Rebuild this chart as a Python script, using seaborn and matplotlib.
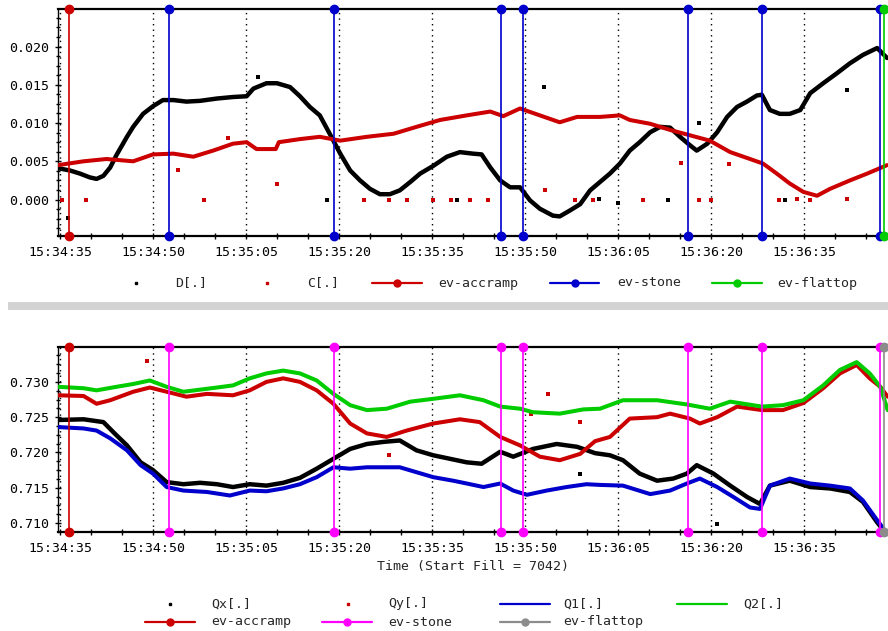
import matplotlib
matplotlib.use("Agg")
import matplotlib.pyplot as plt
from matplotlib.lines import Line2D
from matplotlib.patches import Rectangle
from matplotlib.ticker import MultipleLocator, AutoMinorLocator, FuncFormatter
import seaborn as sns

# ---------------- data (seconds after 15:34:35) ----------------
D_t = [-0.3,1.6,3.2,4.8,5.9,7.0,8.1,9.1,10.8,11.8,13.4,15.0,16.6,18.3,20.4,22.6,25.3,27.9,30.1,31.2,33.3,35.0,37.1,38.7,40.3,41.9,43.5,45.2,46.8,48.4,50.0,51.6,53.2,54.8,56.5,58.1,60.2,62.4,64.5,66.6,68.0,69.4,71.0,72.6,74.2,75.8,77.4,79.5,80.6,82.3,83.9,85.5,87.1,88.7,90.3,91.9,93.5,95.2,96.8,98.4,100.0,101.6,102.7,104.4,106.0,107.6,109.2,110.8,112.4,113.2,114.5,116.1,117.7,119.4,121.0,123.1,125.3,127.4,129.5,131.8,133.4]
D_v = [0.0041,0.0038,0.0034,0.0029,0.0027,0.0031,0.0042,0.0058,0.0082,0.0095,0.0112,0.0122,0.0130,0.0130,0.0128,0.0129,0.0132,0.0134,0.0135,0.0145,0.0152,0.0152,0.0147,0.0135,0.0121,0.0110,0.0086,0.0060,0.0038,0.0025,0.0014,0.0007,0.0007,0.0012,0.0023,0.0034,0.0044,0.0056,0.0062,0.0060,0.0059,0.0042,0.0025,0.0016,0.0016,-0.0001,-0.0012,-0.0021,-0.0022,-0.0014,-0.0006,0.0012,0.0023,0.0034,0.0047,0.0064,0.0075,0.0088,0.0095,0.0094,0.0082,0.0071,0.0064,0.0073,0.0088,0.0108,0.0121,0.0128,0.0136,0.0137,0.0117,0.0112,0.0112,0.0117,0.0139,0.0152,0.0165,0.0178,0.0189,0.0198,0.0185]

C_t = [-0.3,3.8,7.5,11.8,15.0,18.3,21.5,24.7,27.9,30.1,31.7,34.8,35.3,38.7,41.9,45.2,49.5,53.8,57.5,61.3,65.6,69.4,71.5,74.2,77.4,80.6,83.4,87.1,90.3,91.9,95.2,98.4,101.6,104.8,108.1,111.3,113.4,115.6,117.7,119.9,122.1,124.2,127.4,130.2,133.4]
C_v = [0.0045,0.0050,0.0053,0.0050,0.0059,0.0060,0.0056,0.0064,0.0073,0.0075,0.0066,0.0066,0.0075,0.0079,0.0082,0.0077,0.0082,0.0086,0.0095,0.0104,0.0110,0.0115,0.0109,0.0119,0.0110,0.0101,0.0108,0.0108,0.0110,0.0104,0.0099,0.0091,0.0084,0.0077,0.0062,0.0053,0.0047,0.0034,0.0021,0.0010,0.0005,0.0014,0.0025,0.0034,0.0045]

D_out_t = [1.3, 32.0, 43.0, 64.0, 78.0, 87.0, 90.0, 98.0, 103.0, 117.0, 127.0]
D_out_v = [-0.0024, 0.0160, 0.0, 0.0, 0.0147, 0.0001, -0.0004, 0.0, 0.0100, 0.0, 0.0143]
C_out_t = [0.3, 4.2, 19.0, 23.2, 27.1, 35.0, 49.0, 53.0, 56.0, 60.2, 63.0, 66.1, 69.0, 78.2, 83.0, 86.0, 94.0, 100.2, 103.0, 105.0, 107.9, 116.0, 118.9, 121.0, 127.0]
C_out_v = [0.0, 0.0, 0.0039, 0.0, 0.0081, 0.0020, 0.0, 0.0, 0.0, 0.0, 0.0, 0.0, 0.0, 0.0012, 0.0, 0.0, 0.0, 0.0048, 0.0, 0.0, 0.0046, 0.0, 0.0001, 0.0, 0.0001]

Qx_t = [-0.3,3.8,7.0,8.8,10.8,13.0,15.0,17.2,19.9,22.6,25.3,27.9,30.6,33.3,36.0,38.7,41.4,44.1,46.8,49.5,52.2,54.8,57.5,60.2,62.9,65.6,68.0,71.0,73.1,76.3,80.1,83.4,86.3,88.7,90.8,93.5,96.3,98.9,101.1,102.7,105.4,108.1,110.8,112.9,114.5,117.7,121.0,124.2,127.4,129.5,131.8,132.9]
Qx_v = [0.7246,0.7247,0.7243,0.7227,0.7210,0.7186,0.7175,0.7158,0.7155,0.7157,0.7155,0.7151,0.7155,0.7153,0.7157,0.7164,0.7177,0.7191,0.7205,0.7212,0.7215,0.7217,0.7203,0.7196,0.7191,0.7186,0.7184,0.7201,0.7194,0.7205,0.7212,0.7208,0.7199,0.7196,0.7189,0.7170,0.7160,0.7163,0.7170,0.7182,0.7170,0.7153,0.7137,0.7127,0.7153,0.7160,0.7151,0.7149,0.7144,0.7130,0.7101,0.7089]

Qy_t = [-0.3,3.8,5.9,8.1,11.8,14.5,17.2,20.4,23.7,27.9,30.6,33.3,36.0,38.7,41.4,44.1,46.8,49.5,52.7,55.9,60.2,64.5,67.7,71.0,74.2,77.4,80.6,83.9,86.3,88.7,91.9,96.3,98.4,101.6,103.2,106.0,109.2,113.2,116.6,119.9,123.1,125.8,128.5,130.6,132.3,133.5]
Qy_v = [0.7281,0.7280,0.7269,0.7274,0.7286,0.7292,0.7286,0.7279,0.7283,0.7281,0.7288,0.7300,0.7305,0.7300,0.7288,0.7269,0.7241,0.7227,0.7222,0.7231,0.7241,0.7247,0.7243,0.7222,0.7210,0.7194,0.7189,0.7198,0.7216,0.7222,0.7248,0.7250,0.7255,0.7248,0.7241,0.7250,0.7265,0.7260,0.7260,0.7270,0.7291,0.7312,0.7324,0.7305,0.7293,0.7279]

Q1_t = [-0.3,3.8,5.9,8.1,10.8,13.0,15.0,17.2,19.9,23.7,27.4,30.6,33.3,36.0,38.7,41.4,44.1,46.8,49.5,52.7,54.8,57.5,60.2,63.4,65.6,68.3,71.0,73.1,75.3,78.5,81.7,84.9,87.1,90.8,95.2,98.4,101.1,103.2,106.0,108.6,111.3,112.9,114.5,117.7,121.0,124.2,127.4,129.5,131.8,132.9]
Q1_v = [0.7236,0.7234,0.7231,0.7220,0.7203,0.7182,0.7170,0.7151,0.7146,0.7144,0.7139,0.7146,0.7145,0.7149,0.7155,0.7165,0.7179,0.7177,0.7179,0.7179,0.7179,0.7172,0.7165,0.7160,0.7156,0.7151,0.7156,0.7146,0.7140,0.7146,0.7151,0.7155,0.7154,0.7153,0.7141,0.7146,0.7156,0.7163,0.7151,0.7137,0.7122,0.7120,0.7153,0.7163,0.7156,0.7153,0.7149,0.7132,0.7104,0.7091]

Q2_t = [-0.3,3.8,5.9,9.1,11.8,14.5,17.2,19.9,22.6,25.3,27.9,30.6,33.3,36.0,38.7,41.4,44.1,46.8,49.5,52.7,56.5,60.2,64.5,68.3,71.0,74.2,76.3,80.6,84.4,87.1,90.8,96.3,101.1,104.8,108.1,113.2,116.6,119.9,123.1,125.8,128.5,130.6,132.3,133.5]
Q2_v = [0.7293,0.7291,0.7288,0.7293,0.7297,0.7302,0.7293,0.7286,0.7289,0.7292,0.7295,0.7305,0.7312,0.7316,0.7312,0.7302,0.7283,0.7267,0.7260,0.7262,0.7272,0.7276,0.7281,0.7274,0.7265,0.7262,0.7257,0.7255,0.7261,0.7262,0.7274,0.7274,0.7268,0.7262,0.7272,0.7265,0.7267,0.7274,0.7295,0.7317,0.7328,0.7312,0.7293,0.7260]

Qx_out_t = [83.9, 106.0]
Qx_out_v = [0.7169, 0.7098]
Qy_out_t = [14.0, 53.0, 76.0, 78.7, 83.9]
Qy_out_v = [0.7329, 0.7197, 0.7254, 0.7283, 0.7243]

accramp_t = [1.45]
stone_t = [17.6, 44.2, 71.1, 74.7, 101.3, 113.2, 132.3]
flattop_t = [132.9]

top_yticks = [0.000, 0.005, 0.010, 0.015, 0.020]
bot_yticks = [0.710, 0.715, 0.720, 0.725, 0.730]
xlabel = "Time (Start Fill = 7042)"
BASE = 15 * 3600 + 34 * 60 + 35

# ---------------- style ----------------
sns.set_style("ticks")
MONO = ["DejaVu Sans Mono", "Liberation Mono"]
plt.rcParams["font.family"] = MONO
plt.rcParams["font.size"] = 9.5

RED = "#cc0000"
BLUE = "#0000cc"
GREEN = "#00cc00"
MAG = "#ff00ff"
GRAY = "#8c8c8c"

W, H = 888, 631
fig = plt.figure(figsize=(W / 100, H / 100), dpi=100)


def fx(x):
    return x / W


def fy(y):
    return 1 - y / H


def fmt_time(t, pos):
    s = BASE + int(round(t))
    return f"{s // 3600:02d}:{(s // 60) % 60:02d}:{s % 60:02d}"


XLIM = ((58 - 60) / 6.2, (888 - 60) / 6.2)

ax1 = fig.add_axes([fx(58), fy(236), fx(888) - fx(58), fy(9) - fy(236)])
ax2 = fig.add_axes([fx(58), fy(531.5), fx(888) - fx(58), fy(347.3) - fy(531.5)])


def style_axes(ax, ylim, yticks, fmt):
    ax.set_xlim(*XLIM)
    ax.set_ylim(*ylim)
    ax.xaxis.set_major_locator(MultipleLocator(15))
    ax.xaxis.set_minor_locator(MultipleLocator(5))
    ax.xaxis.set_major_formatter(FuncFormatter(fmt_time))
    ax.set_yticks(yticks)
    ax.yaxis.set_minor_locator(AutoMinorLocator(4))
    ax.yaxis.set_major_formatter(FuncFormatter(lambda v, p: fmt.format(v)))
    ax.tick_params(axis="both", which="both", direction="inout", length=5,
                   width=1, colors="black", labelsize=9.5)
    ax.tick_params(axis="y", which="minor", length=3)
    ax.tick_params(axis="x", which="major", pad=5)
    ax.tick_params(axis="y", which="major", pad=4)
    for sp in ["top", "bottom"]:
        ax.spines[sp].set_linewidth(1.6)
        ax.spines[sp].set_color("black")
    ax.spines["left"].set_linewidth(1.0)
    ax.spines["left"].set_color("black")
    ax.spines["right"].set_visible(False)
    ax.grid(False)
    for t in range(0, 134, 15):
        ax.axvline(t, color="black", linestyle=(0, (1, 3)), linewidth=1.0, zorder=1)
    ax.set_xlabel("")
    ax.set_ylabel("")


def events(ax, times, color, lw=1.2):
    for t in times:
        ax.axvline(t, color=color, linewidth=lw, marker="o", markersize=6,
                   clip_on=False, zorder=6)


# ---------------- top panel ----------------
sns.lineplot(x=D_t, y=D_v, ax=ax1, color="black", linewidth=3.2, sort=False,
             estimator=None, zorder=3)
sns.lineplot(x=C_t, y=C_v, ax=ax1, color=RED, linewidth=2.9, sort=False,
             estimator=None, zorder=4)
sns.scatterplot(x=D_out_t, y=D_out_v, ax=ax1, color="black", marker="s", s=5,
                linewidth=0, zorder=3)
sns.scatterplot(x=C_out_t, y=C_out_v, ax=ax1, color=RED, marker="s", s=5,
                linewidth=0, zorder=3)
style_axes(ax1, (-0.00476, 0.0249), top_yticks, "{:.3f}")
events(ax1, accramp_t, RED)
events(ax1, stone_t, BLUE)
events(ax1, flattop_t, GREEN)

# ---------------- bottom panel ----------------
sns.lineplot(x=Qx_t, y=Qx_v, ax=ax2, color="black", linewidth=3.2, sort=False,
             estimator=None, zorder=3)
sns.lineplot(x=Q1_t, y=Q1_v, ax=ax2, color=BLUE, linewidth=2.9, sort=False,
             estimator=None, zorder=3)
sns.lineplot(x=Qy_t, y=Qy_v, ax=ax2, color=RED, linewidth=2.9, sort=False,
             estimator=None, zorder=3)
sns.lineplot(x=Q2_t, y=Q2_v, ax=ax2, color=GREEN, linewidth=2.9, sort=False,
             estimator=None, zorder=4)
sns.scatterplot(x=Qx_out_t, y=Qx_out_v, ax=ax2, color="black", marker="s", s=5,
                linewidth=0, zorder=3)
sns.scatterplot(x=Qy_out_t, y=Qy_out_v, ax=ax2, color=RED, marker="s", s=5,
                linewidth=0, zorder=3)
style_axes(ax2, (0.7088, 0.7349), bot_yticks, "{:.3f}")
events(ax2, accramp_t, RED)
events(ax2, stone_t, MAG)
events(ax2, flattop_t, GRAY)
ax2.set_xlabel(xlabel, fontsize=9.5, labelpad=4)

# ---------------- separator ----------------
fig.add_artist(Rectangle((fx(8), fy(310)), fx(888) - fx(8), fy(302) - fy(310),
                         transform=fig.transFigure, facecolor="#d3d3d3",
                         edgecolor="none"))

# ---------------- legends ----------------
def leg_dot(x, y, color):
    fig.add_artist(Line2D([fx(x)], [fy(y)], marker="s", markersize=2,
                          color=color, linestyle="none", transform=fig.transFigure))


def leg_line(x0, x1, y, color, marker=True):
    fig.add_artist(Line2D([fx(x0), fx(x1)], [fy(y), fy(y)], color=color,
                          linewidth=1.6, transform=fig.transFigure))
    if marker:
        fig.add_artist(Line2D([fx((x0 + x1) / 2)], [fy(y)], marker="o",
                              markersize=5, color=color, linestyle="none",
                              transform=fig.transFigure))


def leg_text(x, y, s):
    fig.text(fx(x), fy(y), s, ha="left", va="center", fontsize=9.5,
             family=MONO)


ly = 283
leg_dot(135.7, ly, "black"); leg_text(175, ly, "D[.]")
leg_dot(266.7, ly, RED); leg_text(307, ly, "C[.]")
leg_line(372, 422, ly, RED); leg_text(438, ly, "ev-accramp")
leg_line(550, 599, ly, BLUE); leg_text(617, ly, "ev-stone")
leg_line(712, 762, ly, GREEN); leg_text(777, ly, "ev-flattop")

r1, r2 = 604, 622
leg_dot(170, r1, "black"); leg_text(211, r1, "Qx[.]")
leg_dot(348, r1, RED); leg_text(388, r1, "Qy[.]")
leg_line(500, 550, r1, BLUE, marker=False); leg_text(563, r1, "Q1[.]")
leg_line(677, 727, r1, GREEN, marker=False); leg_text(743, r1, "Q2[.]")
leg_line(145, 195, r2, RED); leg_text(211, r2, "ev-accramp")
leg_line(322, 372, r2, MAG); leg_text(388, r2, "ev-stone")
leg_line(500, 550, r2, GRAY); leg_text(563, r2, "ev-flattop")

fig.savefig("out.png", dpi=100)
